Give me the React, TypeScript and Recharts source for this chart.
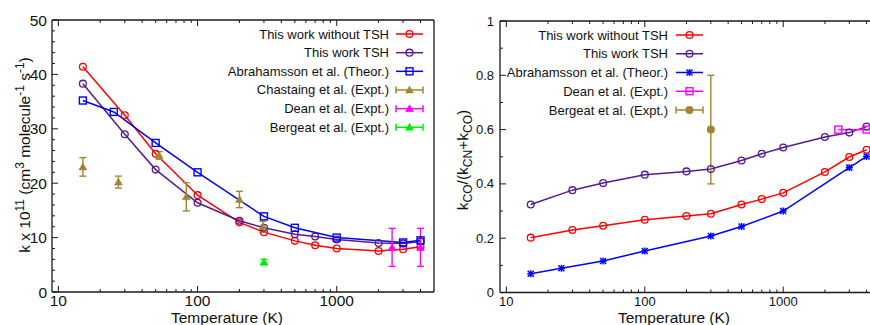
import React from 'react';
import { ComposedChart, Line, XAxis, YAxis, ErrorBar, Customized } from 'recharts';

const FONT = '"Liberation Sans", Arial, Helvetica, sans-serif';

// ---------- Left panel: k x 10^11 (cm^3 molecule^-1 s^-1) ----------
const T_THIS = [15, 30, 50, 100, 200, 300, 500, 700, 1000, 2000, 3000, 4000];
const K_NO_TSH = [41.4, 32.5, 25.4, 17.8, 12.8, 11.0, 9.4, 8.6, 8.0, 7.55, 7.85, 8.3];
const K_TSH = [38.3, 29.0, 22.5, 16.4, 13.1, 11.8, 10.6, 10.2, 9.65, 9.0, 8.9, 9.3];
const T_ABR = [15, 25, 50, 100, 300, 500, 1000, 3000, 4000];
const K_ABR = [35.2, 33.1, 27.4, 22.0, 13.9, 11.8, 10.0, 9.1, 9.5];
const T_CHA = [15, 27, 53, 83, 200, 295];
const K_CHA = [23.0, 20.2, 25.1, 17.5, 17.0, 12.0];
const E_CHA = [1.7, 1.1, 0.7, 2.6, 1.5, 1.0];
const T_DEAN = [2500, 4000];
const K_DEAN = [8.2, 8.2];
const E_DEAN = [3.5, 3.5];
const T_BER = [300];
const K_BER = [5.5];
const E_BER = [0.5];

// ---------- Right panel: k_CO/(k_CN+k_CO) ----------
const R_NO_TSH = [0.202, 0.23, 0.246, 0.268, 0.282, 0.29, 0.324, 0.344, 0.367, 0.444, 0.499, 0.526];
const R_TSH = [0.324, 0.377, 0.403, 0.434, 0.446, 0.455, 0.486, 0.511, 0.534, 0.573, 0.589, 0.611];
const R_ABR = [0.069, 0.089, 0.116, 0.153, 0.208, 0.243, 0.3, 0.46, 0.501];
const R_DEAN = [0.6, 0.6];
const R_BER = [0.6];
const RE_BER = [0.2];

// ---------- ticks ----------
const X_TICKS = [10, 20, 30, 40, 50, 60, 70, 80, 90, 100, 200, 300, 400, 500, 600, 700, 800, 900, 1000, 2000, 3000, 4000];
const X_MAJOR = [10, 100, 1000];
const Y_TICKS_L = [0, 2, 4, 6, 8, 10, 12, 14, 16, 18, 20, 22, 24, 26, 28, 30, 32, 34, 36, 38, 40, 42, 44, 46, 48, 50];
const Y_MAJOR_L = [0, 10, 20, 30, 40, 50];
const Y_TICKS_R = [0, 0.1, 0.2, 0.3, 0.4, 0.5, 0.6, 0.7, 0.8, 0.9, 1];
const Y_MAJOR_R = [0, 0.2, 0.4, 0.6, 0.8, 1];
const Y_LABELS_R = ['0', '0.2', '0.4', '0.6', '0.8', '1'];

const X_DOMAIN: [number, number] = [9, 5000];

const RED = '#ff0000';
const PURPLE = '#561c8c';
const BLUE = '#0000ff';
const GOLD = '#a08532';
const MAGENTA = '#ff00ff';
const GREEN = '#00ee00';
const AXIS = '#1a1a1a';
const TEXT = '#111';

const rows = (ts: number[], vs: number[], es?: number[]) =>
  ts.map((t, i) => ({ T: t, v: vs[i], e: es ? es[i] : 0 }));

// ---------- markers ----------
type Mk = (cx: number, cy: number) => React.ReactElement;
const openCircle = (c: string): Mk => (cx, cy) => (
  <circle cx={cx} cy={cy} r={3.4} fill="none" stroke={c} strokeWidth={1.3} />
);
const openSquare = (c: string): Mk => (cx, cy) => (
  <rect x={cx - 3.5} y={cy - 3.5} width={7} height={7} fill="none" stroke={c} strokeWidth={1.4} />
);
const triangle = (c: string): Mk => (cx, cy) => (
  <polygon points={`${cx},${cy - 4} ${cx - 4},${cy + 3} ${cx + 4},${cy + 3}`} fill={c} stroke={c} strokeWidth={0.5} />
);
const filledCircle = (c: string): Mk => (cx, cy) => <circle cx={cx} cy={cy} r={4} fill={c} />;
const asterisk = (c: string): Mk => (cx, cy) => (
  <g stroke={c} strokeWidth={1.5}>
    <line x1={cx - 3.5} y1={cy} x2={cx + 3.5} y2={cy} />
    <line x1={cx} y1={cy - 3.5} x2={cx} y2={cy + 3.5} />
    <line x1={cx - 3} y1={cy - 3} x2={cx + 3} y2={cy + 3} />
    <line x1={cx - 3} y1={cy + 3} x2={cx + 3} y2={cy - 3} />
  </g>
);

const dotOf = (mk: Mk) => (p: any) => (
  <g key={`dot-${p.index}`}>{p.cx != null && p.cy != null ? mk(p.cx, p.cy) : null}</g>
);

// ---------- ticks ----------
type Side = 'bottom' | 'top' | 'left' | 'right';
function makeTick(
  side: Side,
  majors: number[],
  labelOf: ((v: number) => string) | null,
  fontSize: number,
  gap: number
) {
  return (props: any) => {
    const { x, y, payload } = props;
    const v = payload.value;
    const major = majors.some((m) => Math.abs(m - v) < 1e-9);
    const len = major ? 6 : 3;
    let l;
    if (side === 'bottom') l = <line x1={x} y1={y} x2={x} y2={y - len} />;
    else if (side === 'top') l = <line x1={x} y1={y} x2={x} y2={y + len} />;
    else if (side === 'left') l = <line x1={x} y1={y} x2={x + len} y2={y} />;
    else l = <line x1={x} y1={y} x2={x - len} y2={y} />;
    let t = null;
    if (labelOf && major) {
      if (side === 'bottom')
        t = (
          <text x={x} y={y + gap} textAnchor="middle" fontSize={fontSize} fontFamily={FONT} fill={TEXT}>
            {labelOf(v)}
          </text>
        );
      else if (side === 'left')
        t = (
          <text x={x - gap} y={y} textAnchor="end" dominantBaseline="central" fontSize={fontSize} fontFamily={FONT} fill={TEXT}>
            {labelOf(v)}
          </text>
        );
    }
    return (
      <g>
        <g stroke={AXIS} strokeWidth={1}>{l}</g>
        {t}
      </g>
    );
  };
}

// ---------- legend ----------
type LegendItem = { label: string; color: string; mk: Mk; kind: 'line' | 'err' };
function LegendBlock({ items, textRight, x1, x2, y0, dy }: { items: LegendItem[]; textRight: number; x1: number; x2: number; y0: number; dy: number }) {
  const xm = (x1 + x2) / 2;
  return (
    <g>
      {items.map((it, i) => {
        const y = y0 + i * dy;
        return (
          <g key={it.label}>
            <text x={textRight} y={y} textAnchor="end" dominantBaseline="central" fontSize={13} fontFamily={FONT} fill={TEXT}>
              {it.label}
            </text>
            <line x1={x1} y1={y} x2={x2} y2={y} stroke={it.color} strokeWidth={1.5} />
            {it.kind === 'err' ? (
              <g stroke={it.color} strokeWidth={1.5}>
                <line x1={x1} y1={y - 3.5} x2={x1} y2={y + 3.5} />
                <line x1={x2} y1={y - 3.5} x2={x2} y2={y + 3.5} />
              </g>
            ) : null}
            {it.mk(xm, y)}
          </g>
        );
      })}
    </g>
  );
}

const LEFT_LEGEND: LegendItem[] = [
  { label: 'This work without TSH', color: RED, mk: openCircle(RED), kind: 'line' },
  { label: 'This work TSH', color: PURPLE, mk: openCircle(PURPLE), kind: 'line' },
  { label: 'Abrahamsson et al. (Theor.)', color: BLUE, mk: openSquare(BLUE), kind: 'line' },
  { label: 'Chastaing et al. (Expt.)', color: GOLD, mk: triangle(GOLD), kind: 'err' },
  { label: 'Dean et al. (Expt.)', color: MAGENTA, mk: triangle(MAGENTA), kind: 'err' },
  { label: 'Bergeat et al. (Expt.)', color: GREEN, mk: triangle(GREEN), kind: 'err' },
];
const RIGHT_LEGEND: LegendItem[] = [
  { label: 'This work without TSH', color: RED, mk: openCircle(RED), kind: 'line' },
  { label: 'This work TSH', color: PURPLE, mk: openCircle(PURPLE), kind: 'line' },
  { label: 'Abrahamsson et al. (Theor.)', color: BLUE, mk: asterisk(BLUE), kind: 'line' },
  { label: 'Dean et al. (Expt.)', color: MAGENTA, mk: openSquare(MAGENTA), kind: 'line' },
  { label: 'Bergeat et al. (Expt.)', color: GOLD, mk: filledCircle(GOLD), kind: 'err' },
];

const LeftOverlay = () => (
  <g>
    <LegendBlock items={LEFT_LEGEND} textRight={389} x1={396} x2={423} y0={34} dy={18.66} />
    <text transform="translate(29.5,155) rotate(-90)" textAnchor="middle" fontSize={15.5} fontFamily={FONT} fill={TEXT}>
      k x 10<tspan dy={-6} fontSize={12}>11</tspan>
      <tspan dy={6}> (cm</tspan>
      <tspan dy={-6} fontSize={12}>3</tspan>
      <tspan dy={6}> molecule</tspan>
      <tspan dy={-6} fontSize={12}>-1</tspan>
      <tspan dy={6}> s</tspan>
      <tspan dy={-6} fontSize={12}>-1</tspan>
      <tspan dy={6}>)</tspan>
    </text>
    <text x={227} y={323} textAnchor="middle" fontSize={15.5} fontFamily={FONT} fill={TEXT}>
      Temperature (K)
    </text>
  </g>
);

const RightOverlay = () => (
  <g>
    <LegendBlock items={RIGHT_LEGEND} textRight={668 - 435} x1={676 - 435} x2={703 - 435} y0={35} dy={18.75} />
    <text transform={`translate(${467.5 - 435},160) rotate(-90)`} textAnchor="middle" fontSize={15.5} fontFamily={FONT} fill={TEXT}>
      k<tspan dy={4} fontSize={12}>CO</tspan>
      <tspan dy={-4}>/(k</tspan>
      <tspan dy={4} fontSize={12}>CN</tspan>
      <tspan dy={-4}>+k</tspan>
      <tspan dy={4} fontSize={12}>CO</tspan>
      <tspan dy={-4}>)</tspan>
    </text>
    <text x={674 - 435} y={323} textAnchor="middle" fontSize={15.5} fontFamily={FONT} fill={TEXT}>
      Temperature (K)
    </text>
  </g>
);

const axisLine = { stroke: AXIS, strokeWidth: 1.3 };
const xLabel = (v: number) => String(v);

export default function App() {
  const leftY = [0, 50] as [number, number];
  const rightY = [0, 1] as [number, number];
  return (
    <div style={{ position: 'absolute', left: 0, top: 0, width: 870, height: 325, overflow: 'hidden', background: '#fff' }}>
      <div style={{ position: 'absolute', left: 0, top: 0 }}>
        <ComposedChart width={435} height={325} margin={{ top: 19, right: 0, bottom: 32, left: 51 }}>
          <XAxis xAxisId={0} dataKey="T" type="number" scale="log" domain={X_DOMAIN} allowDataOverflow ticks={X_TICKS} interval={0}
            height={1} tickSize={0} tickMargin={0} tickLine={false} axisLine={axisLine}
            tick={makeTick('bottom', X_MAJOR, xLabel, 15.5, 13.5)} />
          <XAxis xAxisId="top" orientation="top" dataKey="T" type="number" scale="log" domain={X_DOMAIN} allowDataOverflow ticks={X_TICKS} interval={0}
            height={1} tickSize={0} tickMargin={0} tickLine={false} axisLine={axisLine}
            tick={makeTick('top', X_MAJOR, null, 15.5, 0)} />
          <YAxis yAxisId={0} type="number" domain={leftY} ticks={Y_TICKS_L} interval={0}
            width={1} tickSize={0} tickMargin={0} tickLine={false} axisLine={axisLine}
            tick={makeTick('left', Y_MAJOR_L, (v) => String(v), 15.5, 5)} />
          <YAxis yAxisId="r" orientation="right" type="number" domain={leftY} ticks={Y_TICKS_L} interval={0}
            width={1} tickSize={0} tickMargin={0} tickLine={false} axisLine={axisLine}
            tick={makeTick('right', Y_MAJOR_L, null, 15.5, 0)} />

          <Line data={rows(T_THIS, K_NO_TSH)} dataKey="v" stroke={RED} strokeWidth={1.5} dot={dotOf(openCircle(RED))} activeDot={false} isAnimationActive={false} />
          <Line data={rows(T_THIS, K_TSH)} dataKey="v" stroke={PURPLE} strokeWidth={1.5} dot={dotOf(openCircle(PURPLE))} activeDot={false} isAnimationActive={false} />
          <Line data={rows(T_ABR, K_ABR)} dataKey="v" stroke={BLUE} strokeWidth={1.5} dot={dotOf(openSquare(BLUE))} activeDot={false} isAnimationActive={false} />
          <Line data={rows(T_CHA, K_CHA, E_CHA)} dataKey="v" stroke="none" dot={dotOf(triangle(GOLD))} activeDot={false} isAnimationActive={false}>
            <ErrorBar dataKey="e" direction="y" width={3.5} stroke={GOLD} strokeWidth={1.4} isAnimationActive={false} />
          </Line>
          <Line data={rows(T_DEAN, K_DEAN, E_DEAN)} dataKey="v" stroke="none" dot={dotOf(triangle(MAGENTA))} activeDot={false} isAnimationActive={false}>
            <ErrorBar dataKey="e" direction="y" width={3.5} stroke={MAGENTA} strokeWidth={1.4} isAnimationActive={false} />
          </Line>
          <Line data={rows(T_BER, K_BER, E_BER)} dataKey="v" stroke="none" dot={dotOf(triangle(GREEN))} activeDot={false} isAnimationActive={false}>
            <ErrorBar dataKey="e" direction="y" width={3.5} stroke={GREEN} strokeWidth={1.4} isAnimationActive={false} />
          </Line>
          <Customized component={LeftOverlay} />
        </ComposedChart>
      </div>
      <div style={{ position: 'absolute', left: 435, top: 0 }}>
        <ComposedChart width={450} height={325} margin={{ top: 20, right: 4, bottom: 31.5, left: 64 }}>
          <XAxis xAxisId={0} dataKey="T" type="number" scale="log" domain={X_DOMAIN} allowDataOverflow ticks={X_TICKS} interval={0}
            height={1} tickSize={0} tickMargin={0} tickLine={false} axisLine={axisLine}
            tick={makeTick('bottom', X_MAJOR, xLabel, 13, 13)} />
          <XAxis xAxisId="top" orientation="top" dataKey="T" type="number" scale="log" domain={X_DOMAIN} allowDataOverflow ticks={X_TICKS} interval={0}
            height={1} tickSize={0} tickMargin={0} tickLine={false} axisLine={axisLine}
            tick={makeTick('top', X_MAJOR, null, 13, 0)} />
          <YAxis yAxisId={0} type="number" domain={rightY} ticks={Y_TICKS_R} interval={0}
            width={1} tickSize={0} tickMargin={0} tickLine={false} axisLine={axisLine}
            tick={makeTick('left', Y_MAJOR_R, (v) => Y_LABELS_R[Y_MAJOR_R.findIndex((m) => Math.abs(m - v) < 1e-9)], 13, 6)} />
          <YAxis yAxisId="r" orientation="right" type="number" domain={rightY} ticks={Y_TICKS_R} interval={0}
            width={1} tickSize={0} tickMargin={0} tickLine={false} axisLine={axisLine}
            tick={makeTick('right', Y_MAJOR_R, null, 13, 0)} />

          <Line data={rows(T_THIS, R_NO_TSH)} dataKey="v" stroke={RED} strokeWidth={1.5} dot={dotOf(openCircle(RED))} activeDot={false} isAnimationActive={false} />
          <Line data={rows(T_THIS, R_TSH)} dataKey="v" stroke={PURPLE} strokeWidth={1.5} dot={dotOf(openCircle(PURPLE))} activeDot={false} isAnimationActive={false} />
          <Line data={rows(T_ABR, R_ABR)} dataKey="v" stroke={BLUE} strokeWidth={1.5} dot={dotOf(asterisk(BLUE))} activeDot={false} isAnimationActive={false} />
          <Line data={rows(T_DEAN, R_DEAN)} dataKey="v" stroke={MAGENTA} strokeWidth={1.5} dot={dotOf(openSquare(MAGENTA))} activeDot={false} isAnimationActive={false} />
          <Line data={rows(T_BER, R_BER, RE_BER)} dataKey="v" stroke="none" dot={dotOf(filledCircle(GOLD))} activeDot={false} isAnimationActive={false}>
            <ErrorBar dataKey="e" direction="y" width={3.5} stroke={GOLD} strokeWidth={1.4} isAnimationActive={false} />
          </Line>
          <Customized component={RightOverlay} />
        </ComposedChart>
      </div>
    </div>
  );
}
